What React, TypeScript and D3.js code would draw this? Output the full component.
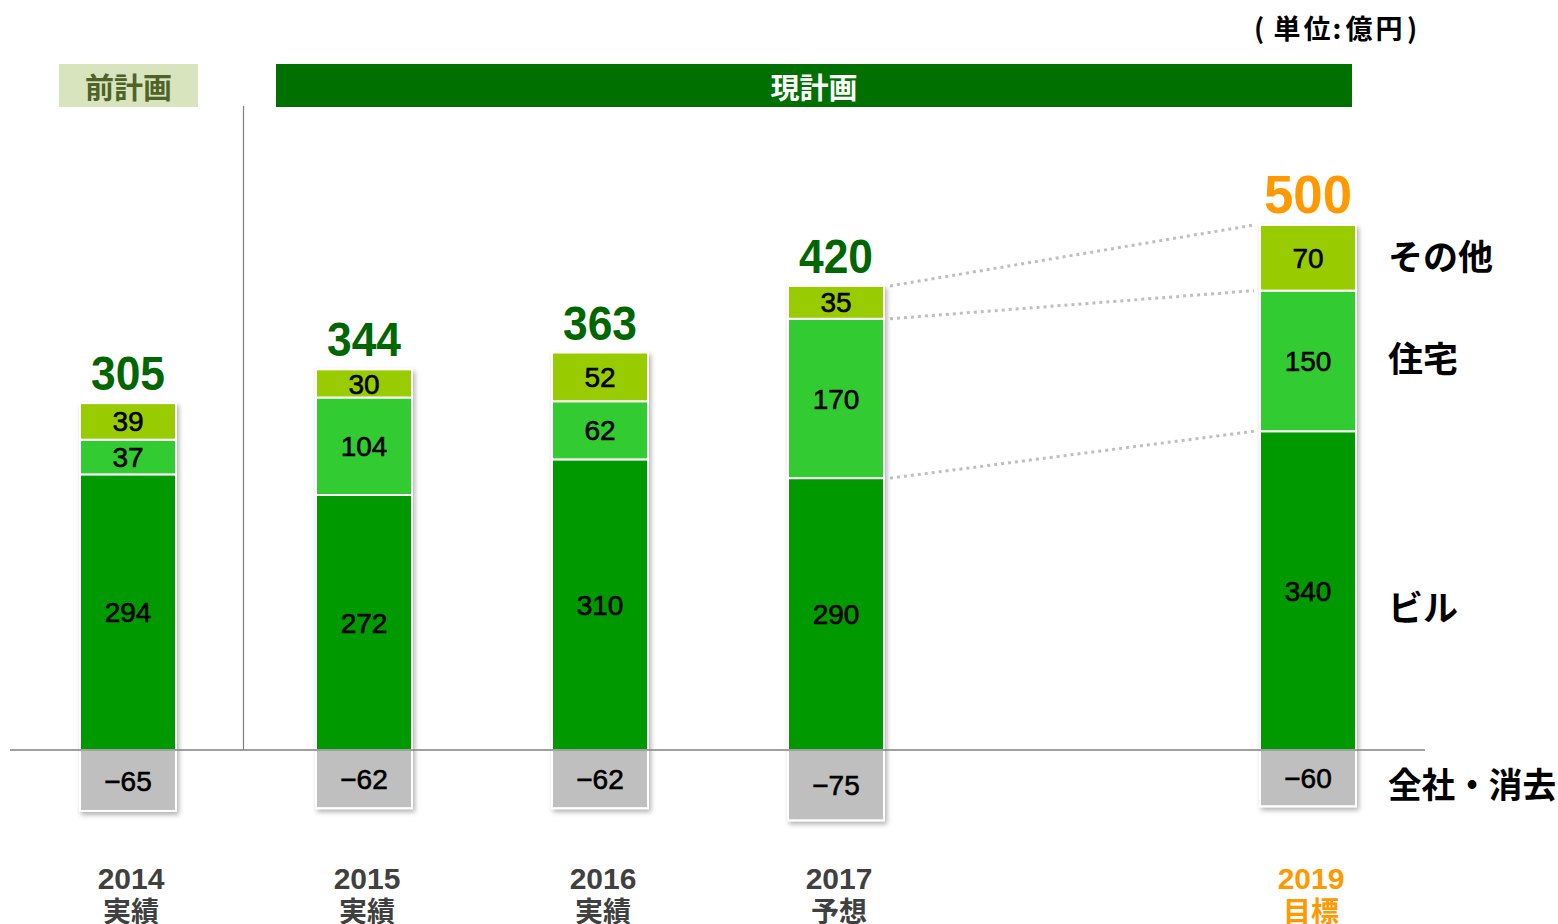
import React from "react";
import * as d3 from "d3";

// chart values (億円)
const years = ["2014", "2015", "2016", "2017", "2019"];
const subLabels = ["実績", "実績", "実績", "予想", "目標"];
const building = [294, 272, 310, 290, 340];
const housing = [37, 104, 62, 170, 150];
const other = [39, 30, 52, 35, 70];
const corporate = [-65, -62, -62, -75, -60];
const totals = [305, 344, 363, 420, 500];
const seriesNames = ["ビル", "住宅", "その他"];
const seriesColors = ["#009900", "#33cc33", "#99cc00"];
const legendShift = [18, -2, 0]; // small vertical nudge of the right-hand names
const unitChars = ["(", "単", "位", ":", "億", "円", ")"];
const unitCenters = [1259, 1287, 1317, 1337, 1359, 1389, 1412];

const W = 1558;
const H = 924;
const jp = "'Noto Sans CJK JP', 'Noto Sans', sans-serif";
const num = "'Liberation Sans', Arial, sans-serif";

const App = () => {
  const x = d3
    .scalePoint<string>()
    .domain(["2014", "2015", "2016", "2017", "2018", "2019"])
    .range([128, 1308]);
  const y = d3.scaleLinear().domain([-100, 600]).range([843.75, 187.5]);
  const barW = 96;

  const stacks = d3
    .stack<number>()
    .keys(["0", "1", "2"])
    .value((i, k) => [building, housing, other][+k][i])(d3.range(years.length));

  const lastIdx = years.length - 1;
  const prevIdx = years.length - 2;
  const linkVals = [
    [building[prevIdx], building[lastIdx]],
    [building[prevIdx] + housing[prevIdx], building[lastIdx] + housing[lastIdx]],
    [
      building[prevIdx] + housing[prevIdx] + other[prevIdx],
      building[lastIdx] + housing[lastIdx] + other[lastIdx],
    ],
  ];

  const isTarget = (i: number) => i === lastIdx;
  const stackTop = (i: number) => building[i] + housing[i] + other[i];

  return (
    <svg width={W} height={H} style={{ display: "block", position: "absolute", left: 0, top: 0 }}>
      <defs>
        <filter id="shadow" x="-20%" y="-20%" width="140%" height="140%">
          <feDropShadow dx="2" dy="3" stdDeviation="2.5" floodColor="#000" floodOpacity="0.3" />
        </filter>
      </defs>
      <rect width={W} height={H} fill="#fff" />

      {/* unit note, one glyph at a time to keep the wide spacing */}
      <g fontFamily={jp} fontWeight={700} fontSize={27} fill="#000" textAnchor="middle">
        {unitChars.map((c, i) => (
          <text key={i} x={unitCenters[i]} y={39}>
            {c}
          </text>
        ))}
      </g>

      {/* plan headers */}
      <rect x={59} y={64} width={139} height={43} fill="#d7e4bd" />
      <text x={128.5} y={99} textAnchor="middle" fontFamily={jp} fontWeight={700} fontSize={29} fill="#4f6228">
        前計画
      </text>
      <rect x={276} y={64} width={1076} height={43} fill="#007000" />
      <text x={814} y={99} textAnchor="middle" fontFamily={jp} fontWeight={700} fontSize={29} fill="#fff">
        現計画
      </text>

      {/* divider */}
      <line x1={243.5} x2={243.5} y1={106} y2={y(0)} stroke="#808080" strokeWidth={1.2} />

      {/* connectors between 2017 and 2019 */}
      {linkVals.map(([a, b], k) => (
        <line
          key={k}
          x1={x(years[prevIdx])! + barW / 2 + 6}
          x2={x(years[lastIdx])! - barW / 2 - 6}
          y1={y(a)}
          y2={y(b)}
          stroke="#bfbfbf"
          strokeWidth={3}
          strokeDasharray="3 4"
        />
      ))}

      {/* bars */}
      {years.map((yr, i) => {
        const cx = x(yr)!;
        return (
          <g key={yr}>
            <g filter="url(#shadow)">
              {stacks.map((s, k) => (
                <rect
                  key={k}
                  x={cx - barW / 2}
                  y={y(s[i][1])}
                  width={barW}
                  height={y(s[i][0]) - y(s[i][1])}
                  fill={seriesColors[k]}
                  stroke="#fff"
                  strokeWidth={2}
                />
              ))}
              <rect
                x={cx - barW / 2}
                y={y(0)}
                width={barW}
                height={y(corporate[i]) - y(0)}
                fill="#bfbfbf"
                stroke="#fff"
                strokeWidth={2}
              />
            </g>
            {stacks.map((s, k) => (
              <text
                key={k}
                x={cx}
                y={(y(s[i][0]) + y(s[i][1])) / 2}
                dy="0.36em"
                textAnchor="middle"
                fontFamily={num}
                fontSize={28}
                fill="#000"
                stroke="#000"
                strokeWidth={0.6}
              >
                {[building, housing, other][k][i]}
              </text>
            ))}
            <text
              x={cx}
              y={(y(0) + y(corporate[i])) / 2}
              dy="0.36em"
              textAnchor="middle"
              fontFamily={num}
              fontSize={28}
              fill="#000"
              stroke="#000"
              strokeWidth={0.6}
            >
              {"−" + Math.abs(corporate[i])}
            </text>
            <text
              x={cx}
              y={y(stackTop(i)) - (isTarget(i) ? 12 : 13)}
              textAnchor="middle"
              fontFamily={num}
              fontWeight={700}
              fontSize={isTarget(i) ? 54 : 49}
              textLength={isTarget(i) ? 88 : 74}
              lengthAdjust="spacingAndGlyphs"
              fill={isTarget(i) ? "#ff9900" : "#006600"}
            >
              {totals[i]}
            </text>
            <text
              x={cx + 3}
              y={889}
              textAnchor="middle"
              fontFamily={num}
              fontWeight={700}
              fontSize={30}
              fill={isTarget(i) ? "#ff9900" : "#404040"}
            >
              {yr}
            </text>
            <text
              x={cx + 3}
              y={922}
              textAnchor="middle"
              fontFamily={jp}
              fontWeight={700}
              fontSize={28}
              fill={isTarget(i) ? "#ff9900" : "#404040"}
            >
              {subLabels[i]}
            </text>
          </g>
        );
      })}

      {/* baseline */}
      <line x1={10} x2={1425} y1={y(0)} y2={y(0)} stroke="#808080" strokeWidth={1.5} />

      {/* series names at right */}
      {stacks.map((s, k) => (
        <text
          key={k}
          x={1388}
          y={(y(s[lastIdx][0]) + y(s[lastIdx][1])) / 2 + legendShift[k]}
          dy="0.36em"
          fontFamily={jp}
          fontWeight={700}
          fontSize={35}
          fill="#000"
        >
          {seriesNames[k]}
        </text>
      ))}
      <text
        x={1388}
        y={(y(0) + y(corporate[lastIdx])) / 2 + 7}
        dy="0.36em"
        fontFamily={jp}
        fontWeight={700}
        fontSize={35}
        textLength={168}
        lengthAdjust="spacingAndGlyphs"
        fill="#000"
      >
        全社・消去
      </text>
    </svg>
  );
};

export default App;
